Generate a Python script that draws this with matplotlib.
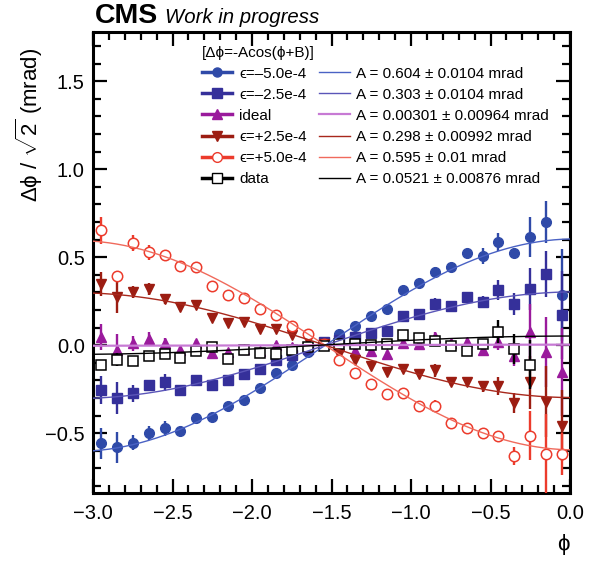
import numpy as np
import matplotlib
matplotlib.use("Agg")
import matplotlib.pyplot as plt
from matplotlib.lines import Line2D
from matplotlib.ticker import MultipleLocator

plt.rcParams['font.family'] = ['Liberation Sans', 'DejaVu Sans']
plt.rcParams['mathtext.fontset'] = 'custom'
plt.rcParams['mathtext.rm'] = 'Liberation Sans'
plt.rcParams['mathtext.it'] = 'Liberation Sans:italic'

# ---------------- data ----------------
phi = [-2.95, -2.85, -2.75, -2.65, -2.55, -2.45, -2.35, -2.25, -2.15, -2.05,
       -1.95, -1.85, -1.75, -1.65, -1.55, -1.45, -1.35, -1.25, -1.15, -1.05,
       -0.95, -0.85, -0.75, -0.65, -0.55, -0.45, -0.35, -0.25, -0.15, -0.05]

eps_m50 = [-0.558, -0.581, -0.553, -0.501, -0.473, -0.490, -0.415, -0.406, -0.347, -0.309,
           -0.244, -0.158, -0.110, -0.038, 0.010, 0.063, 0.110, 0.167, 0.207, 0.314,
           0.352, 0.415, 0.447, 0.524, 0.505, 0.587, 0.524, 0.615, 0.701, 0.286]
err_m50 = [0.086, 0.090, 0.045, 0.040, 0.045, 0.020, 0.020, 0.020, 0.020, 0.015,
           0.015, 0.015, 0.015, 0.015, 0.015, 0.015, 0.015, 0.015, 0.015, 0.020,
           0.020, 0.030, 0.020, 0.020, 0.045, 0.050, 0.030, 0.115, 0.120, 0.260]

eps_m25 = [-0.257, -0.299, -0.272, -0.225, -0.210, -0.257, -0.200, -0.229, -0.196, -0.162,
           -0.133, -0.082, -0.057, -0.020, 0.019, 0.029, 0.047, 0.070, 0.082, 0.167,
           0.179, 0.234, 0.223, 0.276, 0.248, 0.314, 0.234, 0.318, 0.406, 0.171]
err_m25 = [0.080, 0.090, 0.048, 0.030, 0.048, 0.020, 0.020, 0.020, 0.015, 0.015,
           0.015, 0.015, 0.015, 0.015, 0.015, 0.015, 0.015, 0.015, 0.015, 0.020,
           0.020, 0.033, 0.020, 0.020, 0.030, 0.057, 0.060, 0.120, 0.130, 0.250]

ideal = [0.047, -0.029, 0.010, 0.038, 0.013, -0.029, 0.010, -0.047, -0.038, -0.023,
         -0.033, 0.000, -0.010, -0.006, 0.006, -0.004, -0.032, -0.032, -0.048, 0.010,
         0.004, 0.044, 0.010, 0.019, -0.029, 0.019, -0.060, 0.076, -0.038, -0.152]
err_ideal = [0.076, 0.090, 0.043, 0.035, 0.030, 0.020, 0.020, 0.020, 0.015, 0.015,
             0.015, 0.015, 0.015, 0.015, 0.015, 0.015, 0.015, 0.015, 0.015, 0.020,
             0.020, 0.030, 0.020, 0.020, 0.030, 0.048, 0.057, 0.160, 0.200, 0.250]

eps_p25 = [0.349, 0.273, 0.303, 0.318, 0.261, 0.219, 0.229, 0.153, 0.128, 0.130,
           0.091, 0.091, 0.057, 0.032, 0.006, -0.051, -0.086, -0.118, -0.152, -0.133,
           -0.162, -0.143, -0.210, -0.210, -0.234, -0.232, -0.330, -0.210, -0.320, -0.457]
err_p25 = [0.067, 0.090, 0.035, 0.035, 0.025, 0.020, 0.020, 0.015, 0.015, 0.015,
           0.015, 0.015, 0.015, 0.015, 0.015, 0.015, 0.015, 0.015, 0.015, 0.020,
           0.020, 0.035, 0.020, 0.020, 0.030, 0.050, 0.057, 0.150, 0.200, 0.200]

eps_p50 = [0.653, 0.394, 0.581, 0.527, 0.513, 0.451, 0.447, 0.337, 0.286, 0.270,
           0.204, 0.171, 0.109, 0.061, 0.004, -0.086, -0.158, -0.219, -0.276, -0.270,
           -0.347, -0.343, -0.444, -0.470, -0.499, -0.516, -0.629, -0.514, -0.619, -0.619]
err_p50 = [0.076, 0.025, 0.048, 0.043, 0.020, 0.020, 0.020, 0.015, 0.015, 0.015,
           0.015, 0.015, 0.015, 0.015, 0.015, 0.015, 0.015, 0.015, 0.015, 0.020,
           0.020, 0.030, 0.020, 0.020, 0.020, 0.030, 0.050, 0.140, 0.230, 0.120]

data = [-0.114, -0.082, -0.091, -0.061, -0.051, -0.073, -0.034, -0.010, -0.076, -0.029,
        -0.042, -0.051, -0.025, -0.013, -0.006, 0.006, 0.006, 0.000, 0.004, 0.057,
        0.042, 0.023, -0.004, -0.032, 0.006, 0.076, -0.023, -0.110, np.nan, np.nan]
err_data = [0.020, 0.035, 0.020, 0.030, 0.020, 0.015, 0.015, 0.015, 0.015, 0.015,
            0.015, 0.015, 0.015, 0.015, 0.015, 0.015, 0.015, 0.015, 0.015, 0.025,
            0.015, 0.020, 0.020, 0.020, 0.020, 0.065, 0.086, 0.140, np.nan, np.nan]

labels = ['\u03f5=\u20135.0e-4', '\u03f5=\u20132.5e-4', 'ideal', '\u03f5=+2.5e-4', '\u03f5=+5.0e-4', 'data']
fit_A = [0.604, 0.303, 0.00301, 0.298, 0.595, 0.0521]
fit_A_err = ['0.0104', '0.0104', '0.00964', '0.00992', '0.01', '0.00876']
fit_B = [3.11, 3.11, 3.14, -0.03, -0.03, 3.14]

series = [eps_m50, eps_m25, ideal, eps_p25, eps_p50, data]
errors = [err_m50, err_m25, err_ideal, err_p25, err_p50, err_data]

# styles
mcolors = ['#2f4aa8', '#35309a', '#9a1a9c', '#9c1d12', '#ec3b2c', '#000000']
lcolors = ['#4a62c4', '#5a55b8', '#c77ad4', '#a8281c', '#f06a5c', '#000000']
markers = ['o', 's', '^', 'v', 'o', 's']
mfill = [True, True, True, True, False, False]
msizes = [7.0, 7.0, 7.5, 7.5, 7.5, 7.5]

PHI = ['\u03d5', 'DejaVu Sans']

fig = plt.figure(figsize=(5.9, 5.61), dpi=100)
ax = fig.add_axes([93/590, 1-493/561, 477/590, 461/561])

xfit = np.linspace(-3.0, 0.0, 300)
for i in range(6):
    y = np.array(series[i], dtype=float)
    e = np.array(errors[i], dtype=float)
    ax.errorbar(phi, y, yerr=e, fmt='none', ecolor=mcolors[i], elinewidth=1.7, capsize=0, zorder=2 + i)
    ax.plot(phi, y, linestyle='none', marker=markers[i], ms=msizes[i],
            mfc=mcolors[i] if mfill[i] else 'white', mec=mcolors[i], mew=1.0 if mfill[i] else 1.1,
            zorder=3 + i)
for i in range(6):
    ax.plot(xfit, -fit_A[i] * np.cos(xfit + fit_B[i]), color=lcolors[i], lw=1.0 if i != 2 else 1.6, zorder=10)

ax.set_xlim(-3.0, 0.0)
ax.set_ylim(-0.84, 1.78)
ax.xaxis.set_major_locator(MultipleLocator(0.5))
ax.xaxis.set_minor_locator(MultipleLocator(0.1))
ax.yaxis.set_major_locator(MultipleLocator(0.5))
ax.yaxis.set_minor_locator(MultipleLocator(0.1))
ax.tick_params(which='both', direction='in', top=True, right=True, width=1.6, labelsize=14.5)
ax.tick_params(which='major', length=10)
ax.tick_params(which='minor', length=5.5)
ax.tick_params(axis='x', pad=8)
ax.tick_params(axis='y', pad=6)
for s in ax.spines.values():
    s.set_linewidth(2.2)

ax.set_ylabel('\u0394\u03d5 / $\\sqrt{2}$ (mrad)', fontsize=16, loc='top')
ax.yaxis.set_label_coords(-0.1, 0.965)
ax.set_xlabel('\u03d5', fontsize=16, loc='right')
ax.xaxis.set_label_coords(1.0, -0.09)

# legend
handles = []
for i in range(6):
    handles.append(Line2D([], [], color=mcolors[i], lw=2.5, marker=markers[i], ms=msizes[i] - 0.5,
                          mfc=mcolors[i] if mfill[i] else 'white', mec=mcolors[i]))
for i in range(6):
    handles.append(Line2D([], [], color=lcolors[i], lw=1.0 if i != 2 else 1.6))
leg_labels = labels + ['A = %s \u00b1 %s mrad' % (fit_A[i], fit_A_err[i]) for i in range(6)]
leg = ax.legend(handles, leg_labels, ncol=2, loc='upper left', bbox_to_anchor=(0.199, 1.0),
                frameon=False, fontsize=11, title='[\u0394\u03d5=-Acos(\u03d5+B)]', title_fontsize=11,
                alignment='left', handlelength=2.0, handletextpad=0.45, columnspacing=0.8,
                labelspacing=0.46, borderaxespad=0.5)

fig.text(95/590, 1-23/561, 'CMS', fontsize=20.5, fontweight='bold', ha='left', va='baseline')
fig.text(165/590, 1-23/561, 'Work in progress', fontsize=14.7, fontstyle='italic', ha='left', va='baseline')

fig.savefig('out.png', dpi=100)
